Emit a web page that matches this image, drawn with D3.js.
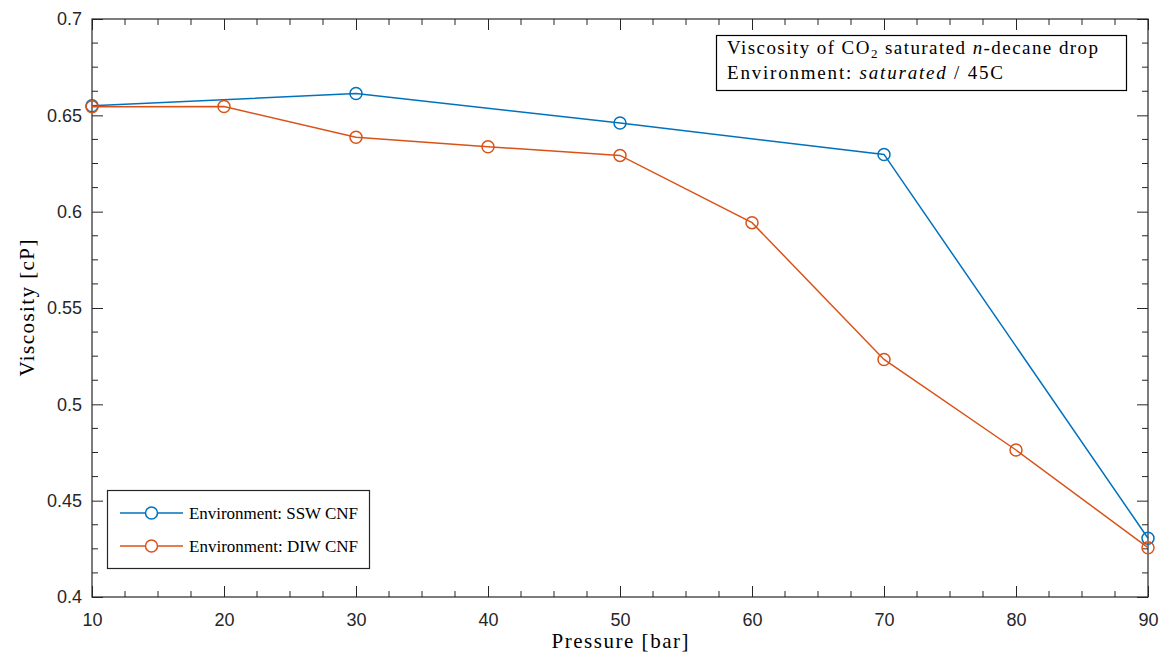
<!DOCTYPE html>
<html>
<head>
<meta charset="utf-8">
<script src="https://cdn.jsdelivr.net/npm/d3@7"></script>
<style>
  html, body { margin: 0; padding: 0; background: #fff; }
  svg { display: block; }
  .tick text { font-family: "Liberation Sans", Arial, sans-serif; font-size: 18px; fill: #262626; }
  .serif { font-family: "Liberation Serif", "DejaVu Serif", serif; fill: #000; }
</style>
</head>
<body>
<svg id="chart" width="1165" height="656"></svg>
<script>
// Pressure steps (bar)
const pressureSSW = [10, 30, 50, 70, 90];
const viscositySSW = [0.6550, 0.6613, 0.6460, 0.6297, 0.4305];

const pressureDIW = [10, 20, 30, 40, 50, 60, 70, 80, 90];
const viscosityDIW = [0.6545, 0.6546, 0.6386, 0.6337, 0.6292, 0.5943, 0.5233, 0.4763, 0.4256];

const xTicks = [10, 20, 30, 40, 50, 60, 70, 80, 90];
const yTicks = [0.4, 0.45, 0.5, 0.55, 0.6, 0.65, 0.7];
const yTickLabels = ["0.4", "0.45", "0.5", "0.55", "0.6", "0.65", "0.7"];

const seriesNames = ["Environment: SSW CNF", "Environment: DIW CNF"];
const seriesColors = ["#0072BD", "#D95319"];

const W = 1165, H = 656;
const margin = { left: 92, right: 17, top: 19, bottom: 59 };
const iw = W - margin.left - margin.right;
const ih = H - margin.top - margin.bottom;

const svg = d3.select("#chart");
const g = svg.append("g").attr("transform", `translate(${margin.left},${margin.top})`);

const x = d3.scaleLinear().domain([10, 90]).range([0, iw]);
const y = d3.scaleLinear().domain([0.4, 0.7]).range([ih, 0]);

const axisColor = "#262626";

// Minor ticks every 2.5 bar and 0.0125 cP
const xMinor = d3.range(10, 90.001, 2.5).filter(v => Math.abs(v % 10) > 1e-6);
const yMinor = d3.range(0, 25).map(i => 0.4 + i * 0.0125).filter((v, i) => i % 4 !== 0);

function styleAxis(sel) {
  sel.select(".domain").remove();
  sel.selectAll(".tick line").attr("stroke", axisColor).attr("stroke-width", 1);
}

// Bottom axis with labels
g.append("g").attr("transform", `translate(0,${ih})`)
  .call(d3.axisBottom(x).tickValues(xTicks).tickSize(-11).tickPadding(16).tickFormat(d3.format("d")))
  .call(styleAxis);
// Top axis (ticks only)
g.append("g")
  .call(d3.axisTop(x).tickValues(xTicks).tickSize(-11).tickFormat(""))
  .call(styleAxis);
// Left axis with labels
g.append("g")
  .call(d3.axisLeft(y).tickValues(yTicks).tickSize(-11).tickPadding(10).tickFormat((d, i) => yTickLabels[i]))
  .call(styleAxis);
// Right axis (ticks only)
g.append("g").attr("transform", `translate(${iw},0)`)
  .call(d3.axisRight(y).tickValues(yTicks).tickSize(-11).tickFormat(""))
  .call(styleAxis);

// Minor ticks
const minor = g.append("g").attr("stroke", axisColor).attr("stroke-width", 1);
xMinor.forEach(v => {
  minor.append("line").attr("x1", x(v)).attr("x2", x(v)).attr("y1", ih).attr("y2", ih - 6);
  minor.append("line").attr("x1", x(v)).attr("x2", x(v)).attr("y1", 0).attr("y2", 6);
});
yMinor.forEach(v => {
  minor.append("line").attr("x1", 0).attr("x2", 6).attr("y1", y(v)).attr("y2", y(v));
  minor.append("line").attr("x1", iw).attr("x2", iw - 6).attr("y1", y(v)).attr("y2", y(v));
});

// Frame
g.append("rect").attr("x", 0).attr("y", 0).attr("width", iw).attr("height", ih)
  .attr("fill", "none").attr("stroke", axisColor).attr("stroke-width", 1.2);

// Series
const series = [
  { px: pressureSSW, vy: viscositySSW },
  { px: pressureDIW, vy: viscosityDIW }
];
const line = d3.line().x(d => x(d[0])).y(d => y(d[1]));
series.forEach((s, i) => {
  const pts = s.px.map((p, j) => [p, s.vy[j]]);
  g.append("path").datum(pts).attr("d", line)
    .attr("fill", "none").attr("stroke", seriesColors[i]).attr("stroke-width", 1.5);
  g.selectAll(null).data(pts).enter().append("circle")
    .attr("cx", d => x(d[0])).attr("cy", d => y(d[1])).attr("r", 6)
    .attr("fill", "none").attr("stroke", seriesColors[i]).attr("stroke-width", 1.5);
});

// Axis titles
svg.append("text").attr("class", "serif")
  .attr("x", margin.left + iw / 2).attr("y", 648)
  .attr("text-anchor", "middle").attr("font-size", 21)
  .attr("textLength", 137).attr("lengthAdjust", "spacing")
  .text("Pressure [bar]");
svg.append("text").attr("class", "serif")
  .attr("transform", `translate(34,${margin.top + ih / 2}) rotate(-90)`)
  .attr("text-anchor", "middle").attr("font-size", 21)
  .attr("textLength", 137).attr("lengthAdjust", "spacing")
  .text("Viscosity [cP]");

// Annotation box
const ann = svg.append("g");
ann.append("rect").attr("x", 716.5).attr("y", 35.5).attr("width", 410).attr("height", 55)
  .attr("fill", "#fff").attr("stroke", "#000").attr("stroke-width", 1.2);
const t1 = ann.append("text").attr("class", "serif").attr("x", 727).attr("y", 53.5).attr("font-size", 19)
  .attr("textLength", 371).attr("lengthAdjust", "spacing");
t1.append("tspan").text("Viscosity of CO");
t1.append("tspan").attr("font-size", 13).attr("dy", 4).text("2");
t1.append("tspan").attr("dy", -4).text(" saturated ");
t1.append("tspan").attr("font-style", "italic").text("n");
t1.append("tspan").text("-decane drop");
const t2 = ann.append("text").attr("class", "serif").attr("x", 727).attr("y", 78.5).attr("font-size", 19)
  .attr("textLength", 276).attr("lengthAdjust", "spacing");
t2.append("tspan").text("Environment: ");
t2.append("tspan").attr("font-style", "italic").text("saturated");
t2.append("tspan").text(" / 45C");

// Legend
const leg = svg.append("g");
leg.append("rect").attr("x", 107.5).attr("y", 490.5).attr("width", 262).attr("height", 78)
  .attr("fill", "#fff").attr("stroke", axisColor).attr("stroke-width", 1.2);
seriesNames.forEach((name, i) => {
  const ly = 513 + i * 33;
  leg.append("line").attr("x1", 120).attr("x2", 183).attr("y1", ly).attr("y2", ly)
    .attr("stroke", seriesColors[i]).attr("stroke-width", 1.5);
  leg.append("circle").attr("cx", 151.5).attr("cy", ly).attr("r", 6)
    .attr("fill", "#fff").attr("stroke", seriesColors[i]).attr("stroke-width", 1.5);
  leg.append("text").attr("class", "serif").attr("x", 189).attr("y", ly + 5.5)
    .attr("font-size", 17).attr("textLength", 169).attr("lengthAdjust", "spacing").text(name);
});
</script>
</body>
</html>
